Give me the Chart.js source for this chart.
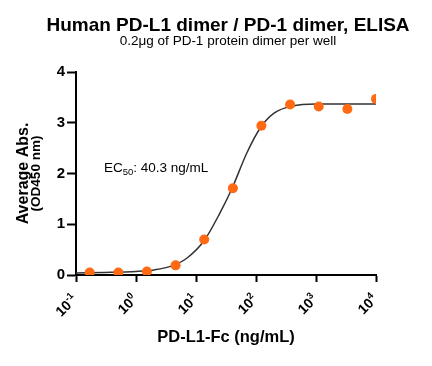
<!DOCTYPE html>
<html>
<head>
<meta charset="utf-8">
<script src="https://cdn.jsdelivr.net/npm/chart.js@4"></script>
<style>
  html, body { margin: 0; padding: 0; background: #fff; }
  #wrap { width: 432px; height: 366px; }
</style>
</head>
<body>
<div id="wrap"><canvas id="elisaChart" width="432" height="366"></canvas></div>
<script>
    // Data
    const concentrations = [0.169, 0.508, 1.52, 4.57, 13.7, 41.2, 123, 370, 1111, 3333, 10000];
    const absorbance = [0.05, 0.05, 0.07, 0.19, 0.70, 1.71, 2.94, 3.36, 3.32, 3.27, 3.47];

    // Fitted curve
    const fitX = [0.1, 0.3, 1, 2, 4, 7, 13.7, 25, 40.3, 70, 123, 200, 400, 1000, 10000];
    const fitY = [0.04, 0.05, 0.07, 0.10, 0.18, 0.33, 0.68, 1.22, 1.72, 2.40, 2.93, 3.19, 3.33, 3.37, 3.37];

    const xTicks = [0.1, 1, 10, 100, 1000, 10000];
    const xTickExp = ['-1', '0', '1', '2', '3', '4'];
    const yTicks = [0, 1, 2, 3, 4];

    const titleText = 'Human PD-L1 dimer / PD-1 dimer, ELISA';
    const subtitleText = '0.2\u03bcg of PD-1 protein dimer per well';
    const xTitle = 'PD-L1-Fc (ng/mL)';
    const yTitle1 = 'Average Abs.';
    const yTitle2 = '(OD450 nm)';
    const ec50Text = ': 40.3 ng/mL';

    const FONT = 'Arial, "Liberation Sans", sans-serif';

    // Draws titles, EC50 note and the log tick labels with superscripts
    const textPlugin = {
        id: 'textPlugin',
        afterDraw(chart) {
            const ctx = chart.ctx;
            const xs = chart.scales.x;
            const area = chart.chartArea;
            ctx.save();
            ctx.fillStyle = '#000';
            ctx.textAlign = 'center';
            ctx.textBaseline = 'alphabetic';
            ctx.font = 'bold 19px ' + FONT;
            ctx.fillText(titleText, 228, 31);
            ctx.font = '13.5px ' + FONT;
            ctx.fillText(subtitleText, 228, 45);

            // x axis title
            ctx.font = 'bold 16.5px ' + FONT;
            ctx.fillText(xTitle, (area.left + area.right) / 2, 342);

            // y axis title, two lines
            ctx.save();
            ctx.translate(28, (area.top + area.bottom) / 2);
            ctx.rotate(-Math.PI / 2);
            ctx.font = 'bold 16px ' + FONT;
            ctx.fillText(yTitle1, 0, 0);
            ctx.font = 'bold 13.5px ' + FONT;
            ctx.fillText(yTitle2, 0, 11.5);
            ctx.restore();

            // EC50 label
            ctx.textAlign = 'left';
            ctx.font = '13.5px ' + FONT;
            let x = 104;
            ctx.fillText('EC', x, 171.5);
            x += ctx.measureText('EC').width;
            ctx.font = '9.5px ' + FONT;
            ctx.fillText('50', x, 174.5);
            x += ctx.measureText('50').width;
            ctx.font = '13.5px ' + FONT;
            ctx.fillText(ec50Text, x, 171.5);

            // x tick labels, rotated 45 degrees
            xTicks.forEach((v, i) => {
                const px = xs.getPixelForValue(v);
                ctx.save();
                ctx.translate(px - 7, 291);
                ctx.rotate(-Math.PI / 4);
                ctx.font = 'bold 14px ' + FONT;
                const wBase = ctx.measureText('10').width;
                ctx.font = 'bold 9.5px ' + FONT;
                const wExp = ctx.measureText(xTickExp[i]).width;
                const w = wBase + wExp;
                ctx.textAlign = 'left';
                ctx.font = 'bold 14px ' + FONT;
                ctx.fillText('10', -w, 13);
                ctx.font = 'bold 9.5px ' + FONT;
                ctx.fillText(xTickExp[i], -w + wBase, 7);
                ctx.restore();
            });
            ctx.restore();
        }
    };

    const ctx = document.getElementById('elisaChart').getContext('2d');
    const elisaChart = new Chart(ctx, {
        type: 'scatter',
        data: {
            datasets: [
                {
                    label: 'Data',
                    data: concentrations.map((c, i) => ({ x: c, y: absorbance[i] })),
                    backgroundColor: '#FF6A13',
                    borderWidth: 0,
                    pointRadius: 5,
                    order: 0
                },
                {
                    label: 'Fit',
                    data: fitX.map((c, i) => ({ x: c, y: fitY[i] })),
                    showLine: true,
                    borderColor: '#333333',
                    borderWidth: 1.5,
                    pointRadius: 0,
                    cubicInterpolationMode: 'monotone',
                    order: 1
                }
            ]
        },
        options: {
            responsive: false,
            animation: false,
            devicePixelRatio: 1,
            layout: { padding: { left: 0, right: 56, top: 72, bottom: 0 } },
            plugins: {
                legend: { display: false },
                tooltip: { enabled: false }
            },
            scales: {
                x: {
                    type: 'logarithmic',
                    min: 0.1,
                    max: 10000,
                    afterBuildTicks: scale => {
                        scale.ticks = xTicks.map(v => ({ value: v }));
                    },
                    afterFit: scale => { scale.height = 91; },
                    ticks: { display: false },
                    grid: {
                        drawOnChartArea: false,
                        drawTicks: true,
                        tickLength: 7,
                        tickWidth: 2,
                        tickColor: '#000'
                    },
                    border: { color: '#000', width: 2 }
                },
                y: {
                    min: 0,
                    max: 4,
                    afterBuildTicks: scale => {
                        scale.ticks = yTicks.map(v => ({ value: v }));
                    },
                    afterFit: scale => { scale.width = 76; },
                    ticks: {
                        color: '#000',
                        padding: 2,
                        font: { family: FONT, size: 15, weight: 'bold' }
                    },
                    grid: {
                        drawOnChartArea: false,
                        drawTicks: true,
                        tickLength: 9,
                        tickWidth: 2,
                        tickColor: '#000'
                    },
                    border: { color: '#000', width: 2 }
                }
            }
        },
        plugins: [textPlugin]
    });
</script>
</body>
</html>
